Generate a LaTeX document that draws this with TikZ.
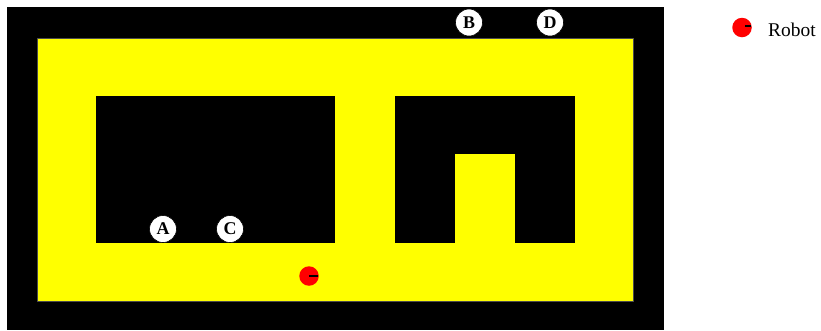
\documentclass[tikz,border=0pt]{standalone}
\usepackage{fontspec}
\setmainfont{Liberation Serif}
\definecolor{pureyellow}{RGB}{255,255,0}
\definecolor{purered}{RGB}{255,0,0}
\begin{document}
\begin{tikzpicture}[x=1bp,y=-1bp,
  wall/.style={fill=black,draw=none},
  free/.style={fill=pureyellow,draw=black!70,line width=0.5bp},
  marker/.style={circle,fill=white,draw=black,line width=0.6bp,minimum size=27bp,inner sep=0pt,font=\bfseries\fontsize{18}{18}\selectfont},
  robot/.style={circle,fill=purered,draw=none,minimum size=19.5bp,inner sep=0pt},
  heading/.style={line width=2bp,draw=black}]
\useasboundingbox (0,0) rectangle (821,330);
% outer wall
\fill[wall] (7,7) rectangle (664,330);
% free space
\filldraw[free] (37,38) rectangle (633,301);
% obstacles
\fill[wall] (96,96) rectangle (335,243);
\fill[wall] (395,96) rectangle (575,243);
\fill[pureyellow] (455,154) rectangle (515,244);
% markers
\node[marker] (A) at (163,229) {A};
\node[marker] (C) at (230,229) {C};
\node[marker] (B) at (469,22.5) {B};
\node[marker] (D) at (550,22.5) {D};
% robot
\node[robot] (r) at (309,276) {};
\coordinate (rh) at (318,276);
\draw[heading] (r.center) -- (rh);
% legend
\node[robot] (lr) at (742,27.5) {};
\coordinate (ls) at (745,26);
\coordinate (lh) at (751,26);
\draw[heading] (ls) -- (lh);
\node[anchor=base west,inner sep=0pt,font=\fontsize{19.5}{19.5}\selectfont] (lt) at (768,36.7) {Robot};
\end{tikzpicture}
\end{document}
